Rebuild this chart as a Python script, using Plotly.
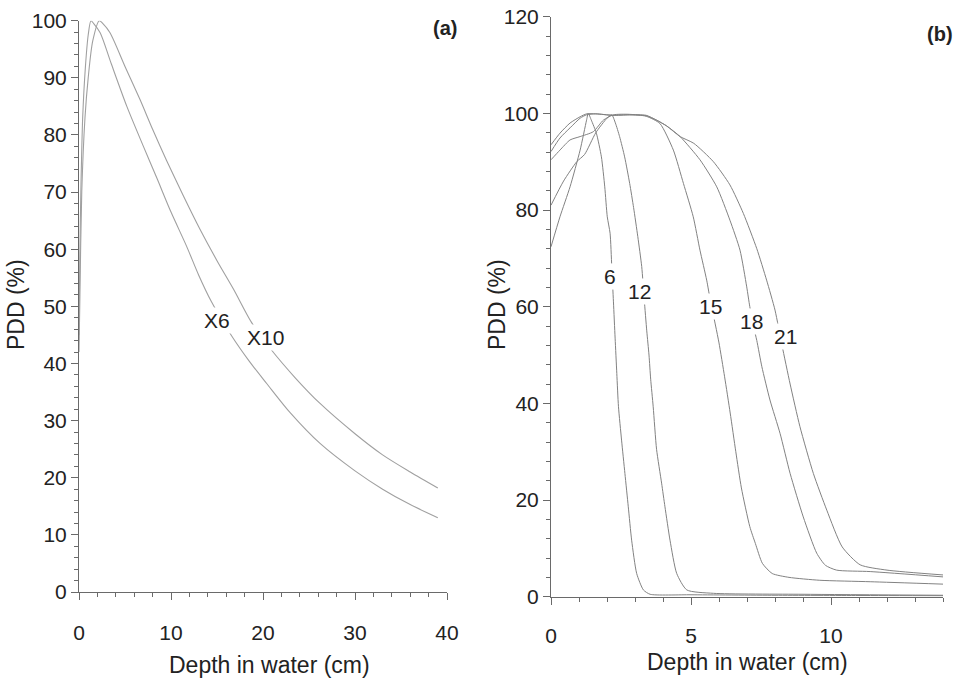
import plotly.graph_objects as go

# ---------------- Panel (a): photon beams ----------------
x6_depth = [0, 0.1, 0.2, 0.4, 0.7, 1.0, 1.3, 1.6, 2.3, 3.5, 5.2, 7.0, 8.45, 10, 11.7, 13, 14.4,
            16.6, 18.5, 20.4, 23, 26.2, 30, 33, 36, 39]
x6_pdd = [45, 60, 70, 83, 92, 97.5, 100, 99.5, 97.9, 92.5, 85, 78, 72.5, 66.5, 60.5, 55.5, 50.8,
          44.8, 40.4, 36.5, 31.3, 26, 21.2, 18, 15.3, 13]

x10_depth = [0, 0.1, 0.3, 0.65, 1.0, 1.5, 2.2, 2.6, 3.37, 5.0, 6.63, 8.0, 9.53, 11.3, 13.15, 15,
             16.8, 18.75, 20.9, 23.5, 26.2, 30, 33, 36, 39]
x10_pdd = [42, 52, 70, 83, 90, 96.5, 100, 99.5, 97.9, 92, 86.2, 81, 75.5, 69.5, 63.5, 58,
           53, 47.2, 42.4, 37.5, 33, 27.7, 24, 21, 18.2]

# ---------------- Panel (b): electron beams ----------------
e6_depth = [0, 0.32, 0.68, 1.04, 1.27, 1.33, 1.44, 1.62, 1.8, 1.92, 2.01, 2.11, 2.17, 2.23, 2.29,
            2.35, 2.41, 2.52, 2.64, 2.76, 2.88, 3.06, 3.3, 3.54, 5, 8, 11, 14]
e6_pdd = [72.4, 78.6, 84.8, 92.4, 98.6, 100, 98.6, 95.9, 91, 84.8, 78.6, 75.2, 68.3, 61, 53.5,
          46.2, 39.3, 32.4, 25.5, 18.6, 11.7, 4.8, 1.4, 0.5, 0.4, 0.3, 0.25, 0.2]

e12_depth = [0, 0.45, 0.92, 1.2, 1.6, 2.0, 2.17, 2.3, 2.45, 2.63, 2.81, 2.95, 3.1, 3.24, 3.33,
             3.42, 3.5, 3.56, 3.65, 3.77, 3.95, 4.07, 4.25, 4.49, 4.85, 5.8, 9, 14]
e12_pdd = [81, 86, 90, 91.5, 96, 99, 99.7, 98, 95.2, 91, 85.5, 80.5, 74.5, 68.3, 61.5,
           55, 50, 45, 39.3, 30.5, 23.5, 18.6, 11.7, 4.8, 1.4, 0.7, 0.5, 0.3]

e15_depth = [0, 0.32, 0.68, 1.04, 1.51, 1.87, 2.23, 2.8, 3.4, 3.89, 4.37, 4.73, 5.08, 5.32, 5.56,
             5.7, 5.88, 6.0, 6.2, 6.4, 6.6, 6.8, 7.1, 7.3, 7.55, 7.9, 8.5, 9.6, 11.4, 14]
e15_pdd = [90.4, 92.4, 94.5, 95.2, 96.2, 98.6, 99.7, 99.8, 99.4, 97.9, 92.4, 85.5, 78.6, 71.7, 65.5,
           61, 56, 52.5, 45.5, 38, 30, 22.5, 14.5, 11, 6.9, 4.8, 4.0, 3.4, 3.1, 2.6]

e18_depth = [0, 0.32, 0.68, 1.04, 1.27, 1.6, 2.2, 2.8, 3.4, 3.77, 4.13, 4.61, 5.32, 5.92, 6.39,
             6.75, 6.99, 7.1, 7.23, 7.35, 7.53, 7.82, 8.18, 8.54, 9.01, 9.49, 9.8, 10.2, 11.4, 14]
e18_pdd = [92.1, 94.9, 97, 99, 99.7, 99.9, 99.6, 99.7, 99.5, 98.6, 97.4, 95.2, 90.4, 84.8, 77.9,
           71.7, 64.1, 60, 56, 53, 47.6, 40.7, 33.8, 25.5, 16.5, 9, 6.5, 5.5, 5.2, 4.1]

e21_depth = [0, 0.32, 0.68, 1.04, 1.27, 1.6, 2.2, 2.8, 3.4, 3.77, 4.13, 4.61, 5.1, 5.8, 6.39,
             6.87, 7.35, 7.7, 8.0, 8.25, 8.54, 8.89, 9.37, 9.85, 10.4, 11.04, 12.0, 14]
e21_pdd = [93.5, 95.9, 98, 99.3, 99.9, 99.9, 99.6, 99.7, 99.6, 98.6, 97.4, 95.2, 93.8, 90, 85.2,
           79.3, 72, 65.5, 59.3, 52, 44, 35.2, 25.5, 17.9, 10.3, 6.6, 5.5, 4.5]

photon_labels = [("X6", 15.0, 47.6), ("X10", 20.3, 44.6)]
electron_labels = [("6", 2.1, 66.2), ("12", 3.15, 63.1), ("15", 5.68, 60.0),
                   ("18", 7.17, 56.9), ("21", 8.36, 53.8)]

W, H = 960, 680
FONT = "Liberation Sans, Arial, sans-serif"
LINE_A = dict(color="#a0a0a0", width=1.1, shape="spline", smoothing=0.8)
LINE_B = dict(color="#828282", width=1.0, shape="spline", smoothing=0.6)
AX = "#6a6a6a"
TXT = "#222222"

fig = go.Figure()
for xs, ys in [(x6_depth, x6_pdd), (x10_depth, x10_pdd)]:
    fig.add_trace(go.Scatter(x=xs, y=ys, mode="lines", line=LINE_A, xaxis="x", yaxis="y",
                             hoverinfo="skip"))
for xs, ys in [(e6_depth, e6_pdd), (e12_depth, e12_pdd), (e15_depth, e15_pdd),
               (e18_depth, e18_pdd), (e21_depth, e21_pdd)]:
    fig.add_trace(go.Scatter(x=xs, y=ys, mode="lines", line=LINE_B, xaxis="x2", yaxis="y2",
                             hoverinfo="skip"))


def px_x(p):
    return p / W


def px_y(p):
    return 1 - p / H


def axis(rng, dtick, minor, domain, anchor, standoff):
    return dict(range=rng, dtick=dtick, tick0=0, domain=domain, anchor=anchor,
                automargin=False,
                showgrid=False, zeroline=False, showline=True, linecolor=AX, linewidth=1,
                ticks="outside", ticklen=7, tickwidth=1, tickcolor=AX,
                minor=dict(dtick=minor, tick0=0, ticks="outside", ticklen=4, tickwidth=1,
                           tickcolor=AX, showgrid=False),
                tickfont=dict(family=FONT, size=21, color=TXT),
                ticklabelstandoff=standoff, fixedrange=True)


fig.update_layout(
    width=W, height=H, margin=dict(l=0, r=0, t=0, b=0, autoexpand=False),
    paper_bgcolor="white", plot_bgcolor="white", showlegend=False,
    xaxis=axis([0, 40], 10, 2, [px_x(79), px_x(447)], "y", 15),
    yaxis=axis([0, 100], 10, 2, [px_y(592), px_y(20.7)], "x", 0),
    xaxis2=axis([0, 14], 5, 1, [px_x(551), px_x(943)], "y2", 13),
    yaxis2=axis([0, 120], 20, 4, [px_y(596.7), px_y(16.7)], "x2", 0),
)

ann = []
for t, x, y in photon_labels:
    ann.append(dict(text=t, x=x, y=y, xref="x", yref="y", showarrow=False,
                    font=dict(family=FONT, size=21, color=TXT), bgcolor="white", borderpad=1))
for t, x, y in electron_labels:
    ann.append(dict(text=t, x=x, y=y, xref="x2", yref="y2", showarrow=False,
                    font=dict(family=FONT, size=21, color=TXT), bgcolor="white", borderpad=1))

titles = [("Depth in water (cm)", 269, 665, 0), ("Depth in water (cm)", 747, 662, 0),
          ("PDD (%)", 16, 305, -90), ("PDD (%)", 497, 305, -90)]
for t, x, y, ang in titles:
    ann.append(dict(text=t, x=px_x(x), y=px_y(y), xref="paper", yref="paper", showarrow=False,
                    textangle=ang, xanchor="center", yanchor="middle",
                    font=dict(family=FONT, size=23, color=TXT)))
for t, x, y in [("<b>(a)</b>", 445, 28), ("<b>(b)</b>", 940, 34)]:
    ann.append(dict(text=t, x=px_x(x), y=px_y(y), xref="paper", yref="paper", showarrow=False,
                    xanchor="center", yanchor="middle",
                    font=dict(family=FONT, size=20, color=TXT)))
fig.update_layout(annotations=ann)

fig.write_html("out.html", config={"displayModeBar": False})
